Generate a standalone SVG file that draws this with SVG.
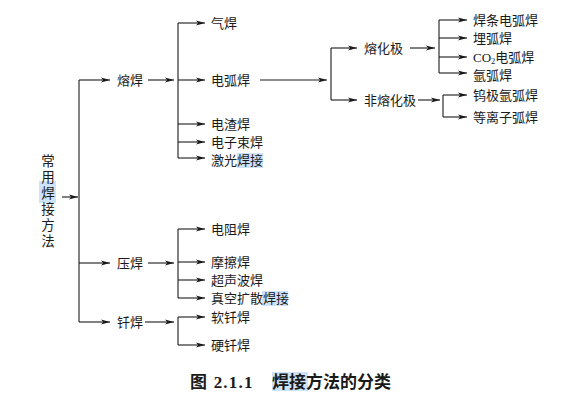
<svg xmlns="http://www.w3.org/2000/svg" width="587" height="410" viewBox="0 0 587 410">
  <defs>
    <marker id="arr" markerUnits="userSpaceOnUse" markerWidth="9" markerHeight="6" refX="9" refY="3" orient="auto">
      <path d="M0,0.5 L9,3 L0,5.5 L2.2,3 z" fill="#1a1a1a"/>
    </marker>
    <style>
      .t { font-family: "Noto Sans CJK SC", "Noto Sans", sans-serif; font-size: 13px; fill: #1a1a1a; }
      .v { font-family: "Noto Sans CJK SC", "Noto Sans", sans-serif; font-size: 13.5px; fill: #1a1a1a; writing-mode: vertical-rl; letter-spacing: 2.5px; }
      .cap { font-family: "Liberation Serif", "Noto Sans CJK SC", serif; font-size: 17px; font-weight: bold; fill: #1a1a1a; }
      .capc { font-family: "Noto Sans CJK SC", sans-serif; font-size: 17px; font-weight: bold; fill: #1a1a1a; }
      .ln { stroke: #1a1a1a; stroke-width: 1.1; fill: none; }
      .a { stroke: #1a1a1a; stroke-width: 1.1; fill: none; marker-end: url(#arr); }
      .hl { fill: #cfe3f8; }
    </style>
  </defs>
  <rect width="587" height="410" fill="#ffffff"/>

  <g id="highlights">
    <rect class="hl" x="39" y="181" width="17" height="22"/>
    <rect class="hl" x="237" y="153" width="26" height="15"/>
    <rect class="hl" x="262" y="291" width="26" height="15"/>
    <rect class="hl" x="272" y="372" width="36" height="19"/>
  </g>

  <g id="connectors">
    <path class="a" d="M62,197 H78"/>
    <path class="ln" d="M79,80 V322"/>
    <path class="a" d="M79,80 H110"/>
    <path class="a" d="M79,263 H110"/>
    <path class="a" d="M79,322 H110"/>

    <path class="a" d="M148,80 H174"/>
    <path class="ln" d="M178,23 V158"/>
    <path class="a" d="M178,23 H205"/>
    <path class="a" d="M178,80 H205"/>
    <path class="a" d="M178,124 H205"/>
    <path class="a" d="M178,142 H205"/>
    <path class="a" d="M178,158 H205"/>

    <path class="a" d="M260,80 H327"/>
    <path class="ln" d="M331,48 V100"/>
    <path class="a" d="M331,48 H357"/>
    <path class="a" d="M331,100 H357"/>

    <path class="a" d="M410,48 H435"/>
    <path class="ln" d="M439,20 V73"/>
    <path class="a" d="M439,20 H467"/>
    <path class="a" d="M439,38 H467"/>
    <path class="a" d="M439,57 H467"/>
    <path class="a" d="M439,73 H467"/>

    <path class="a" d="M418,100 H440"/>
    <path class="ln" d="M443,95 V117"/>
    <path class="a" d="M443,95 H467"/>
    <path class="a" d="M443,117 H467"/>

    <path class="a" d="M148,263 H174"/>
    <path class="ln" d="M178,229 V298"/>
    <path class="a" d="M178,229 H205"/>
    <path class="a" d="M178,262 H205"/>
    <path class="a" d="M178,280 H205"/>
    <path class="a" d="M178,298 H205"/>

    <path class="a" d="M145,322 H174"/>
    <path class="ln" d="M178,317 V345"/>
    <path class="a" d="M178,317 H205"/>
    <path class="a" d="M178,345 H205"/>
  </g>

  <g id="root">
    <text class="v" x="48" y="154">常用焊接方法</text>
  </g>

  <g id="rongshan"><text class="t" x="117" y="85">熔焊</text></g>
  <g id="yahan"><text class="t" x="117" y="268">压焊</text></g>
  <g id="qianhan"><text class="t" x="117" y="327">钎焊</text></g>

  <g id="qihan"><text class="t" x="211" y="28">气焊</text></g>
  <g id="dianhuhan"><text class="t" x="211" y="85">电弧焊</text></g>
  <g id="dianzhahan"><text class="t" x="211" y="129">电渣焊</text></g>
  <g id="dianzishuhan"><text class="t" x="211" y="146.5">电子束焊</text></g>
  <g id="jiguanghanjie"><text class="t" x="211" y="165">激光焊接</text></g>

  <g id="ronghuaji"><text class="t" x="364" y="53">熔化极</text></g>
  <g id="feironghuaji"><text class="t" x="364" y="105">非熔化极</text></g>

  <g id="hantiao"><text class="t" x="473" y="25">焊条电弧焊</text></g>
  <g id="maihu"><text class="t" x="473" y="43">埋弧焊</text></g>
  <g id="co2"><text class="t" x="473" y="61.5"><tspan style="font-family:'Liberation Serif',serif;font-size:13px">CO</tspan><tspan style="font-family:'Liberation Serif',serif;font-size:8.5px" baseline-shift="-2">2</tspan><tspan>电弧焊</tspan></text></g>
  <g id="yahu"><text class="t" x="473" y="80">氩弧焊</text></g>
  <g id="wuji"><text class="t" x="473" y="100">钨极氩弧焊</text></g>
  <g id="dengli"><text class="t" x="473" y="122">等离子弧焊</text></g>

  <g id="dianzu"><text class="t" x="211" y="234">电阻焊</text></g>
  <g id="moca"><text class="t" x="211" y="267">摩擦焊</text></g>
  <g id="chaosheng"><text class="t" x="211" y="285">超声波焊</text></g>
  <g id="zhenkong"><text class="t" x="211" y="303">真空扩散焊接</text></g>

  <g id="ruanqian"><text class="t" x="211" y="322">软钎焊</text></g>
  <g id="yingqian"><text class="t" x="211" y="350">硬钎焊</text></g>

  <g id="caption">
    <text class="cap" x="190" y="388" letter-spacing="1.2">图 2.1.1</text>
    <text class="capc" x="272" y="388">焊接方法的分类</text>
  </g>
</svg>
